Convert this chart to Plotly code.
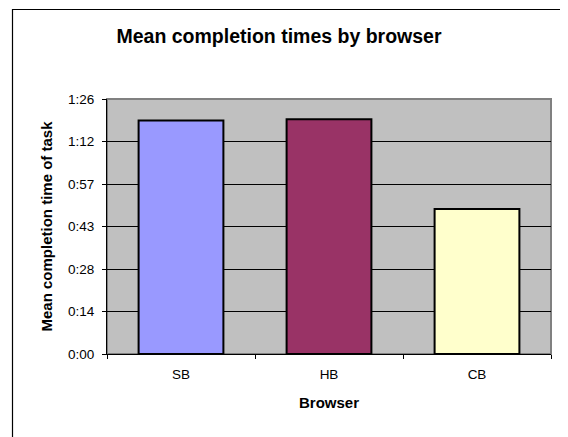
import plotly.graph_objects as go

# data (seconds)
browsers = ["SB", "HB", "CB"]
mean_secs = [79.1, 79.5, 49.1]
bar_colors = ["#9999FF", "#993366", "#FFFFCC"]
tick_secs = [0, 14.4, 28.8, 43.2, 57.6, 72.0, 86.4]
tick_labels = ["0:00", "0:14", "0:28", "0:43", "0:57", "1:12", "1:26"]

fig = go.Figure()

fig.add_trace(go.Bar(
    x=browsers,
    y=mean_secs,
    marker=dict(color=bar_colors, line=dict(color="black", width=2)),
    showlegend=False
))

# page has an 8px body margin, so the figure is 8px smaller and shifted
W, H = 560, 429
L, R, T, B = 99, 17, 91, 83
pw, ph = W - L - R, H - T - B

# outer chart frame (right/bottom edges fall outside the window)
fig.add_shape(
    type="rect", xref="paper", yref="paper",
    x0=(4.5 - L) / pw, x1=(W + 10 - L) / pw,
    y0=-(B + 10) / ph, y1=(ph + T - 1.5) / ph,
    line=dict(color="black", width=1.2), fillcolor="rgba(0,0,0,0)", layer="above"
)

# grey plot-area border
fig.add_shape(type="rect", xref="paper", yref="paper", x0=0, x1=1, y0=0, y1=1,
              line=dict(color="#808080", width=2), layer="below")

fig.update_layout(
    width=W, height=H,
    margin=dict(l=L, r=R, t=T, b=B),
    paper_bgcolor="white",
    plot_bgcolor="#C0C0C0",
    font=dict(family="Liberation Sans, Arial", size=13.5, color="black"),
    title=dict(
        text="<b>Mean completion times by browser</b>",
        x=271 / W, xanchor="center", y=1 - 28 / H, yanchor="middle",
        font=dict(size=19.5)
    ),
    bargap=0.427,
    xaxis=dict(
        title=dict(text="<b>Browser</b>", standoff=16, font=dict(size=15)),
        showline=True, linecolor="black", linewidth=1,
        ticks="outside", ticklen=4, tickcolor="black", tickson="boundaries",
        ticklabelstandoff=8,
        showgrid=False,
    ),
    yaxis=dict(
        title=dict(text="<b>Mean completion time of task</b>", standoff=11, font=dict(size=15)),
        range=[0, 86.4],
        tickvals=tick_secs, ticktext=tick_labels,
        showline=True, linecolor="black", linewidth=1,
        ticks="outside", ticklen=4, tickcolor="black",
        ticklabelstandoff=5,
        showgrid=True, gridcolor="black", gridwidth=1,
        zeroline=False,
    ),
)

fig.write_html("out.html")
